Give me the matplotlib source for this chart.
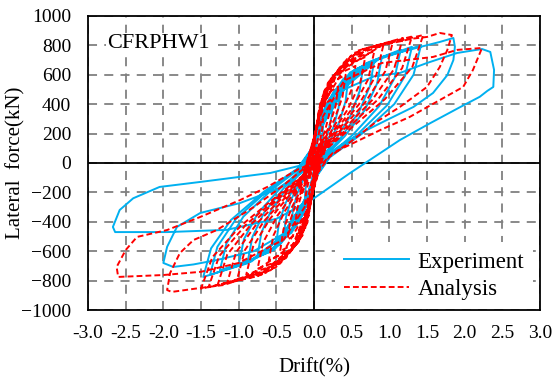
import numpy as np
import matplotlib.pyplot as plt

plt.rcParams['font.family'] = ['Liberation Serif', 'DejaVu Serif']

# Experiment cycles: drift(%) and lateral force(kN)
exp_drift = [
    [0, 0.012, 0.036, 0.072, 0.12, 0.112, 0.09, 0.054, 0.018, 0,
     -0.012, -0.036, -0.072, -0.12, -0.112, -0.09, -0.054, -0.018, 0],
    [0.025, 0.075, 0.15, 0.25, 0.233, 0.188, 0.113, 0.038, 0,
     -0.03, -0.09, -0.18, -0.3, -0.279, -0.225, -0.135, -0.045, 0],
    [0.035, 0.105, 0.21, 0.35, 0.326, 0.263, 0.158, 0.053, 0,
     -0.04, -0.12, -0.24, -0.4, -0.372, -0.3, -0.18, -0.06, 0],
    [0.045, 0.135, 0.27, 0.45, 0.419, 0.338, 0.203, 0.068, 0,
     -0.05, -0.15, -0.3, -0.5, -0.465, -0.375, -0.225, -0.075, 0],
    [0.065, 0.195, 0.39, 0.65, 0.605, 0.488, 0.293, 0.098, 0,
     -0.075, -0.225, -0.45, -0.75, -0.698, -0.563, -0.338, -0.113, 0],
    [0.08, 0.24, 0.48, 0.8, 0.744, 0.6, 0.36, 0.12, 0,
     -0.088, -0.264, -0.528, -0.88, -0.818, -0.66, -0.396, -0.132, 0],
    [0.09, 0.27, 0.54, 0.9, 0.837, 0.675, 0.405, 0.135, 0,
     -0.1, -0.3, -0.6, -1.0, -0.93, -0.75, -0.45, -0.15, 0],
    [0.115, 0.345, 0.69, 1.15, 1.07, 0.863, 0.518, 0.173, 0,
     -0.125, -0.375, -0.75, -1.25, -1.163, -0.938, -0.563, -0.188, 0],
    [0.13, 0.39, 0.78, 1.3, 1.209, 0.975, 0.585, 0.195, 0,
     -0.138, -0.414, -0.828, -1.38, -1.283, -1.035, -0.621, -0.207, 0],
    [0.142, 0.426, 0.852, 1.42, 1.321, 1.065, 0.639, 0.213, 0,
     -0.147, -0.441, -0.882, -1.47, -1.367, -1.103, -0.662, -0.221, 0],
    [0.1, 0.4, 0.9, 1.41, 1.67, 1.85, 1.87, 1.85, 1.77, 1.58, 1.32, 0.97, 0.7,
     0.35, 0.1, 0, -0.1, -0.4, -0.8, -1.29, -1.6, -1.87, -2.0, -1.95, -1.82,
     -1.51, -0.98, -0.5, -0.15, 0],
    [0.1, 0.4, 0.8, 1.14, 1.5, 1.9, 2.23, 2.34, 2.39, 2.38, 2.3, 2.2, 1.94,
     1.54, 1.14, 0.74, 0.48, 0, -0.5, -1.16, -1.95, -2.64, -2.67, -2.58, -2.4,
     -2.05, -1.51, -0.58, -0.2],
]
exp_force = [
    [0, 88, 163, 220, 250, 188, 125, 63, 13, -35,
     -81, -150, -202, -230, -173, -115, -58, -12, 38],
    [147, 273, 370, 420, 315, 210, 105, 21, -63,
     -147, -273, -370, -420, -315, -210, -105, -21, 63],
    [175, 325, 440, 500, 375, 250, 125, 25, -74,
     -172, -319, -431, -490, -368, -245, -123, -25, 75],
    [196, 364, 493, 560, 420, 280, 140, 28, -81,
     -189, -351, -475, -540, -405, -270, -135, -27, 84],
    [228, 423, 572, 650, 488, 325, 163, 33, -95,
     -221, -410, -554, -630, -473, -315, -158, -32, 98],
    [245, 455, 616, 700, 525, 350, 175, 35, -101,
     -235, -436, -590, -670, -503, -335, -168, -34, 105],
    [252, 468, 634, 720, 540, 360, 180, 36, -104,
     -242, -449, -607, -690, -518, -345, -173, -35, 108],
    [270, 501, 678, 770, 578, 385, 193, 39, -110,
     -256, -475, -642, -730, -548, -365, -183, -37, 116],
    [277, 514, 695, 790, 593, 395, 198, 40, -114,
     -266, -494, -669, -760, -570, -380, -190, -38, 118],
    [280, 520, 704, 800, 600, 400, 200, 40, -116,
     -271, -504, -682, -775, -581, -388, -194, -39, 120],
    [330, 560, 720, 789, 823, 850, 790, 700, 598, 476, 381, 293, 224,
     120, 20, -60, -250, -480, -600, -660, -690, -707, -680, -570, -435,
     -340, -272, -180, -60, 40],
    [280, 500, 590, 612, 680, 748, 775, 755, 633, 517, 490, 450, 380,
     270, 156, 20, -68, -240, -380, -455, -470, -470, -435, -320, -240,
     -163, -129, -68, -20],
]

# Analysis cycles
ana_drift = [
    [0, 0.006, 0.024, 0.06, 0.12, 0.108, 0.078, 0.042, 0.012, 0,
     -0.006, -0.024, -0.06, -0.12, -0.108, -0.078, -0.042, -0.012, 0],
    [0.011, 0.044, 0.11, 0.22, 0.198, 0.143, 0.077, 0.022, 0,
     -0.013, -0.05, -0.125, -0.25, -0.225, -0.163, -0.088, -0.025, 0],
    [0.016, 0.064, 0.16, 0.32, 0.288, 0.208, 0.112, 0.032, 0,
     -0.018, -0.07, -0.175, -0.35, -0.315, -0.228, -0.123, -0.035, 0],
    [0.021, 0.084, 0.21, 0.42, 0.378, 0.273, 0.147, 0.042, 0,
     -0.023, -0.09, -0.225, -0.45, -0.405, -0.293, -0.158, -0.045, 0],
    [0.028, 0.11, 0.275, 0.55, 0.495, 0.358, 0.193, 0.055, 0,
     -0.03, -0.12, -0.3, -0.6, -0.54, -0.39, -0.21, -0.06, 0],
    [0.034, 0.136, 0.34, 0.68, 0.612, 0.442, 0.238, 0.068, 0,
     -0.038, -0.15, -0.375, -0.75, -0.675, -0.488, -0.263, -0.075, 0],
    [0.04, 0.16, 0.4, 0.8, 0.72, 0.52, 0.28, 0.08, 0,
     -0.045, -0.18, -0.45, -0.9, -0.81, -0.585, -0.315, -0.09, 0],
    [0.046, 0.184, 0.46, 0.92, 0.828, 0.598, 0.322, 0.092, 0,
     -0.051, -0.204, -0.51, -1.02, -0.918, -0.663, -0.357, -0.102, 0],
    [0.053, 0.21, 0.525, 1.05, 0.945, 0.683, 0.368, 0.105, 0,
     -0.058, -0.23, -0.575, -1.15, -1.035, -0.748, -0.403, -0.115, 0],
    [0.059, 0.236, 0.59, 1.18, 1.062, 0.767, 0.413, 0.118, 0,
     -0.064, -0.256, -0.64, -1.28, -1.152, -0.832, -0.448, -0.128, 0],
    [0.065, 0.26, 0.65, 1.3, 1.17, 0.845, 0.455, 0.13, 0,
     -0.07, -0.28, -0.7, -1.4, -1.26, -0.91, -0.49, -0.14, 0],
    [0.073, 0.29, 0.725, 1.45, 1.305, 0.943, 0.508, 0.145, 0,
     -0.075, -0.3, -0.75, -1.5, -1.35, -0.975, -0.525, -0.15, 0],
    [0.1, 0.4, 0.9, 1.3, 1.5, 1.67, 1.83, 1.77, 1.67, 1.5, 1.14, 0.8, 0.5,
     0.2, 0, -0.1, -0.4, -0.9, -1.2, -1.51, -1.89, -1.95, -1.91, -1.78, -1.6,
     -1.29, -0.8, -0.4, 0],
    [0.1, 0.4, 0.9, 1.58, 1.9, 2.23, 2.11, 1.98, 1.67, 1.27, 0.88, 0.25, 0,
     -0.1, -0.4, -1.0, -1.5, -2.0, -2.6, -2.62, -2.5, -2.35, -1.95, -1.51,
     -0.98, -0.62, -0.2, 0],
]
ana_force = [
    [0, 105, 204, 270, 300, 225, 150, 84, 30, -56,
     -98, -190, -252, -280, -210, -140, -78, -28, 60],
    [151, 292, 387, 430, 323, 215, 120, 43, -84,
     -147, -286, -378, -420, -315, -210, -118, -42, 86],
    [182, 354, 468, 520, 390, 260, 146, 52, -104,
     -182, -354, -468, -520, -390, -260, -146, -52, 104],
    [210, 408, 540, 600, 450, 300, 168, 60, -120,
     -210, -408, -540, -600, -450, -300, -168, -60, 120],
    [231, 449, 594, 660, 495, 330, 185, 66, -132,
     -231, -449, -594, -660, -495, -330, -185, -66, 132],
    [252, 490, 648, 720, 540, 360, 202, 72, -144,
     -252, -490, -648, -720, -540, -360, -202, -72, 144],
    [266, 517, 684, 760, 570, 380, 213, 76, -152,
     -266, -517, -684, -760, -570, -380, -213, -76, 152],
    [280, 544, 720, 800, 600, 400, 224, 80, -158,
     -277, -537, -711, -790, -593, -395, -221, -79, 160],
    [291, 564, 747, 830, 623, 415, 232, 83, -162,
     -284, -551, -729, -810, -608, -405, -227, -81, 166],
    [298, 578, 765, 850, 638, 425, 238, 85, -166,
     -291, -564, -747, -830, -623, -415, -232, -83, 170],
    [301, 585, 774, 860, 645, 430, 241, 86, -169,
     -296, -575, -761, -845, -634, -423, -237, -85, 172],
    [305, 592, 783, 870, 653, 435, 244, 87, -171,
     -299, -581, -770, -855, -641, -428, -239, -86, 174],
    [380, 640, 800, 845, 857, 884, 870, 769, 653, 517, 381, 270, 150,
     40, -100, -330, -600, -780, -830, -850, -877, -864, -748, -612, -524,
     -456, -300, -150, 20],
    [300, 560, 680, 721, 769, 782, 633, 517, 428, 313, 224, 68, -60,
     -280, -520, -680, -740, -762, -775, -707, -592, -503, -456, -367,
     -252, -163, -40, 0],
]

x_ticks = [-3.0, -2.5, -2.0, -1.5, -1.0, -0.5, 0.0, 0.5, 1.0, 1.5, 2.0, 2.5, 3.0]
y_ticks = [-1000, -800, -600, -400, -200, 0, 200, 400, 600, 800, 1000]

fig = plt.figure(figsize=(5.55, 3.79), dpi=100)
ax = fig.add_axes([0.1586, 0.182, 0.8144, 0.776])

ax.plot(np.concatenate(exp_drift), np.concatenate(exp_force),
        color='#00B0F0', lw=1.4, label='Experiment', zorder=3)
ax.plot(np.concatenate(ana_drift), np.concatenate(ana_force),
        color='#FF0000', lw=1.4, ls=(0, (3, 1.6)), label='Analysis', zorder=4)

ax.axhline(0, color='black', lw=1.3, zorder=2)
ax.axvline(0, color='black', lw=1.3, zorder=2)

ax.set_xlim(-3, 3)
ax.set_ylim(-1000, 1000)
ax.set_xticks(x_ticks)
ax.set_xticklabels(['%.1f' % v for v in x_ticks])
ax.set_yticks(y_ticks)
ax.grid(True, color='#808080', lw=1.3, ls=(0, (5, 4)), zorder=1)
ax.set_axisbelow(True)
ax.tick_params(length=0, labelsize=14)
ax.tick_params(axis='y', pad=12)
ax.tick_params(axis='x', pad=11)
for s in ax.spines.values():
    s.set_linewidth(1.3)
    s.set_zorder(10)

ax.set_xlabel('Drift(%)', fontsize=15, labelpad=11)
ax.set_ylabel('Lateral  force(kN)', fontsize=15, labelpad=-3)

ax.text(-2.74, 810, 'CFRPHW1', fontsize=16, va='center', ha='left',
        bbox=dict(facecolor='white', edgecolor='none', pad=1), zorder=5)

leg = ax.legend(loc='lower right', bbox_to_anchor=(0.985, 0.003), fontsize=16.5,
                frameon=True, framealpha=1, edgecolor='none',
                handlelength=2.85, handletextpad=0.35, borderaxespad=0,
                labelspacing=0.28, fancybox=False)
leg.set_zorder(6)

fig.savefig('out.png', dpi=100)
